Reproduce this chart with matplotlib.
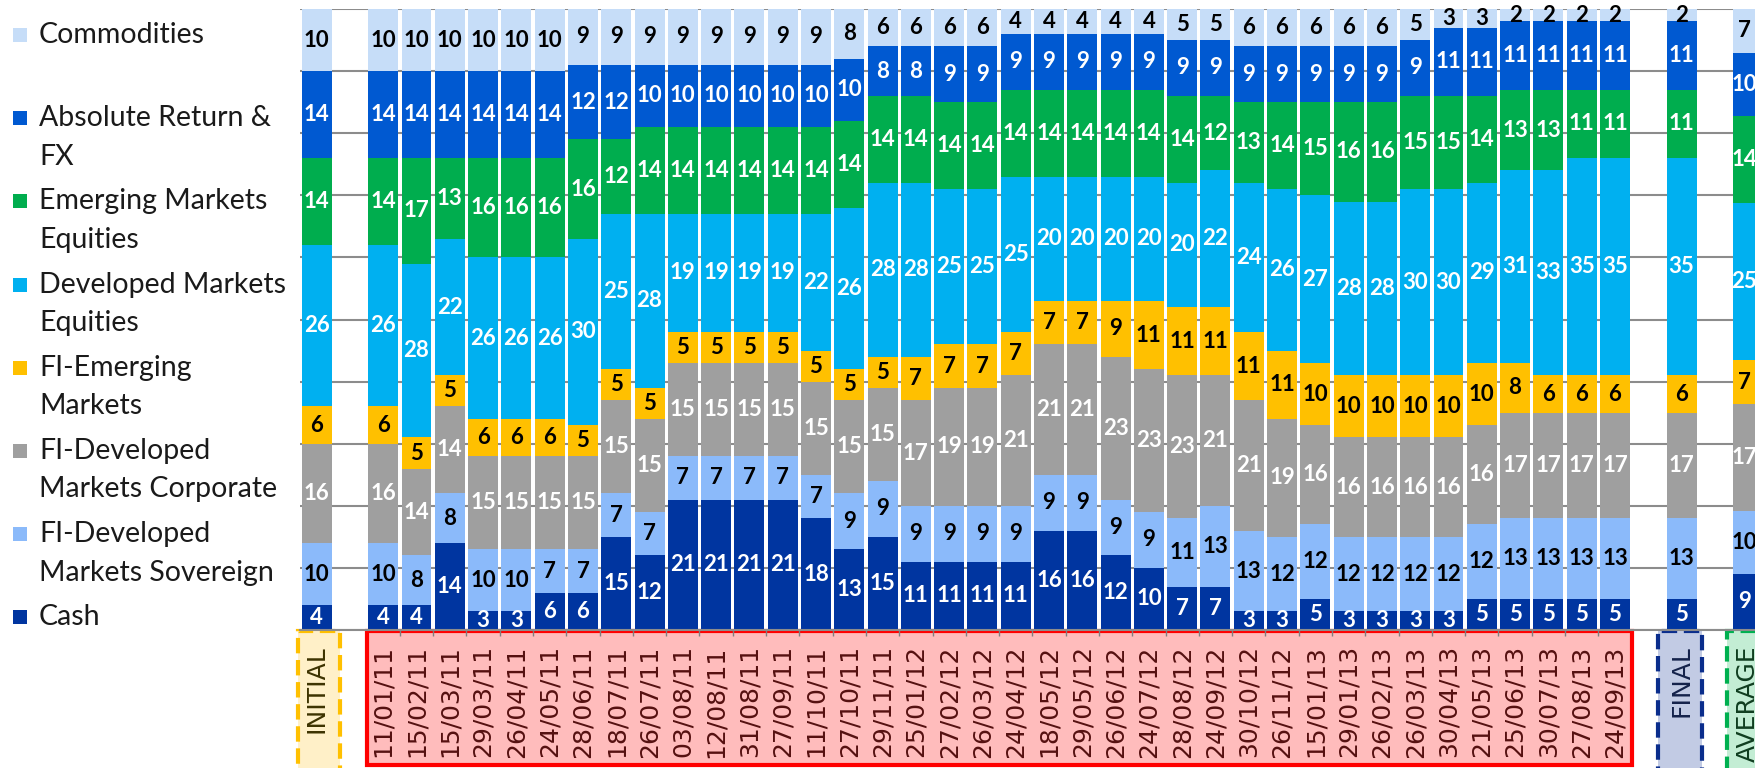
import matplotlib
matplotlib.use('Agg')
import matplotlib.pyplot as plt
import matplotlib.transforms as mtransforms
from matplotlib.patches import Rectangle
import numpy as np

plt.rcParams['font.family'] = ['Lato', 'DejaVu Sans']

# column labels
dates = ['11/01/11', '15/02/11', '15/03/11', '29/03/11', '26/04/11', '24/05/11', '28/06/11',
         '18/07/11', '26/07/11', '03/08/11', '12/08/11', '31/08/11', '27/09/11', '11/10/11',
         '27/10/11', '29/11/11', '25/01/12', '27/02/12', '26/03/12', '24/04/12', '18/05/12',
         '29/05/12', '26/06/12', '24/07/12', '28/08/12', '24/09/12', '30/10/12', '26/11/12',
         '15/01/13', '29/01/13', '26/02/13', '26/03/13', '30/04/13', '21/05/13', '25/06/13',
         '30/07/13', '27/08/13', '24/09/13']
columns = ['INITIAL'] + dates + ['FINAL', 'AVERAGE']

# allocations (%) per asset class: INITIAL, 38 dates, FINAL, AVERAGE
cash = [4, 4, 4, 14, 3, 3, 6, 6, 15, 12, 21, 21, 21, 21, 18, 13, 15, 11, 11, 11, 11,
        16, 16, 12, 10, 7, 7, 3, 3, 5, 3, 3, 3, 3, 5, 5, 5, 5, 5, 5, 9]
fi_dm_sov = [10, 10, 8, 8, 10, 10, 7, 7, 7, 7, 7, 7, 7, 7, 7, 9, 9, 9, 9, 9, 9,
             9, 9, 9, 9, 11, 13, 13, 12, 12, 12, 12, 12, 12, 12, 13, 13, 13, 13, 13, 10]
fi_dm_corp = [16, 16, 14, 14, 15, 15, 15, 15, 15, 15, 15, 15, 15, 15, 15, 15, 15, 17, 19, 19, 21,
              21, 21, 23, 23, 23, 21, 21, 19, 16, 16, 16, 16, 16, 16, 17, 17, 17, 17, 17, 17]
fi_em = [6, 6, 5, 5, 6, 6, 6, 5, 5, 5, 5, 5, 5, 5, 5, 5, 5, 7, 7, 7, 7,
         7, 7, 9, 11, 11, 11, 11, 11, 10, 10, 10, 10, 10, 10, 8, 6, 6, 6, 6, 7]
dm_eq = [26, 26, 28, 22, 26, 26, 26, 30, 25, 28, 19, 19, 19, 19, 22, 26, 28, 28, 25, 25, 25,
         20, 20, 20, 20, 20, 22, 24, 26, 27, 28, 28, 30, 30, 29, 31, 33, 35, 35, 35, 25]
em_eq = [14, 14, 17, 13, 16, 16, 16, 16, 12, 14, 14, 14, 14, 14, 14, 14, 14, 14, 14, 14, 14,
         14, 14, 14, 14, 14, 12, 13, 14, 15, 16, 16, 15, 15, 14, 13, 13, 11, 11, 11, 14]
abs_ret = [14, 14, 14, 14, 14, 14, 14, 12, 12, 10, 10, 10, 10, 10, 10, 10, 8, 8, 9, 9, 9,
           9, 9, 9, 9, 9, 9, 9, 9, 9, 9, 9, 9, 11, 11, 11, 11, 11, 11, 11, 10]
commodities = [10, 10, 10, 10, 10, 10, 10, 9, 9, 9, 9, 9, 9, 9, 9, 8, 6, 6, 6, 6, 4,
               4, 4, 4, 4, 5, 5, 6, 6, 6, 6, 6, 5, 3, 3, 2, 2, 2, 2, 2, 7]

series_names = ['Cash', 'FI-Developed\nMarkets Sovereign', 'FI-Developed\nMarkets Corporate',
                'FI-Emerging\nMarkets', 'Developed Markets\nEquities', 'Emerging Markets\nEquities',
                'Absolute Return &\nFX', 'Commodities']
series_vals = [cash, fi_dm_sov, fi_dm_corp, fi_em, dm_eq, em_eq, abs_ret, commodities]
series_colors = ['#0035a0', '#8bbafa', '#9f9f9f', '#ffc000', '#00b0f0', '#00ad4e', '#0059d1', '#c6ddf8']
label_colors = ['white', 'black', 'white', 'black', 'white', 'white', 'white', 'black']

# slot positions: INITIAL, gap, dates, gap, FINAL, gap, AVERAGE
n_dates = len(dates)
x_dates = np.arange(2, 2 + n_dates)
x = np.concatenate([[0], x_dates, [x_dates[-1] + 2, x_dates[-1] + 4]])

fig = plt.figure(figsize=(17.55, 7.68), dpi=100)
W, H = 1755, 768
pitch = 33.29
ax = fig.add_axes([300 / W, 138 / H, (W - 300) / W, 621 / H])

vals = np.array(series_vals, dtype=float)
totals = vals.sum(axis=0)
bottom = np.zeros(len(x))
for name, v, col, tcol in zip(series_names, series_vals, series_colors, label_colors):
    h = np.array(v) / totals * 100
    bars = ax.bar(x, h, 0.9, bottom=bottom, color=col, zorder=2)
    ax.bar_label(bars, labels=[str(k) for k in v], label_type='center',
                 color=tcol, fontsize=16, fontweight='bold')
    bottom += h

ax.set_xlim(-0.5, -0.5 + (W - 300) / pitch)
ax.set_ylim(0, 100)
ax.set_yticks(np.arange(0, 101, 10))
ax.yaxis.grid(True, color='#8c8c8c', lw=1.5)
ax.set_axisbelow(True)
ax.tick_params(axis='y', left=False, labelleft=False)
for s in ['left', 'right', 'top']:
    ax.spines[s].set_visible(False)
ax.spines['bottom'].set_color('#8c8c8c')
ax.spines['bottom'].set_linewidth(1.5)

ax.set_xticks(x, labels=columns, rotation=90, fontsize=18, family='DejaVu Sans')
ax.tick_params(axis='x', which='major', length=0, pad=11)
ax.set_xticks(np.arange(x_dates[0] + 0.5, x_dates[-1]), minor=True)
ax.tick_params(axis='x', which='minor', length=4.5, color='#7f7f7f', width=1)
tick_colors = ['#3d3300'] + ['#551010'] * n_dates + ['#14224a', '#0f3d1f']
for lab, c in zip(ax.get_xticklabels(), tick_colors):
    lab.set_color(c)

# highlight boxes under the axis
trans = mtransforms.blended_transform_factory(ax.transData, fig.transFigure)
top = 137 / H
boxes = [
    (x[0] - 0.57, x[0] + 0.69, -0.02, '#fff0c8', '#ffc000', '--'),
    (x_dates[0] - 0.5, x_dates[-1] + 0.5, 3 / H, '#ffbcbc', '#ff0000', '-'),
    (x[-2] - 0.7, x[-2] + 0.6, -0.02, '#c2cbe4', '#0a2d8c', '--'),
    (x[-1] - 0.64, x[-1] + 1.5, -0.02, '#c3edd4', '#00b050', '--'),
]
for x0, x1, y0, fc, ec, ls in boxes:
    ax.add_patch(Rectangle((x0, y0), x1 - x0, top - y0, transform=trans, facecolor=fc,
                           edgecolor=ec, linestyle=ls, linewidth=3, clip_on=False, zorder=0.5))

# legend on the left
for i, (name, col) in enumerate(zip(series_names[::-1], series_colors[::-1])):
    yc = 35 + i * 83.2
    fig.add_artist(Rectangle((13 / W, 1 - (yc + 7) / H), 14 / W, 14 / H,
                             transform=fig.transFigure, facecolor=col, edgecolor='none'))
    for j, line in enumerate(name.split('\n')):
        fig.text(39 / W, 1 - (yc + j * 38.5) / H, line, fontsize=20.5, color='#1a1a1a',
                 va='center', ha='left')

fig.savefig('out.png', dpi=100)
